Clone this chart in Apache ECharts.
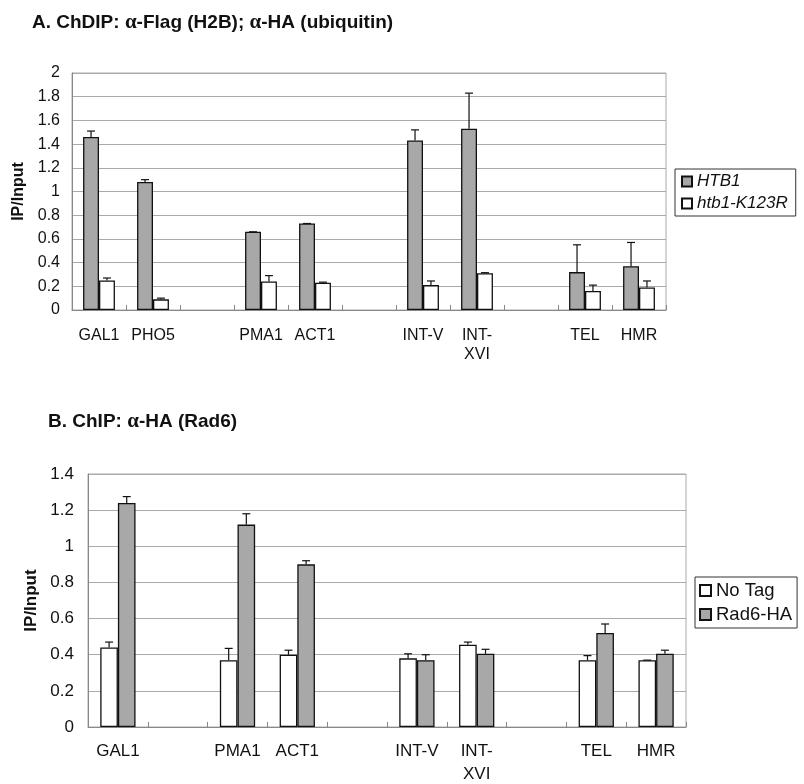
<!DOCTYPE html>
<html>
<head>
<meta charset="utf-8">
<script src="https://cdn.jsdelivr.net/npm/echarts@6/dist/echarts.min.js"></script>
<style>
html,body{margin:0;padding:0;background:#fff;}
#chart{width:804px;height:784px;}
</style>
</head>
<body>
<div id="chart"></div>
<script>
// ---- Panel A data ----
const catsA = ['GAL1', 'PHO5', '', 'PMA1', 'ACT1', '', 'INT-V', 'INT-\nXVI', '', 'TEL', 'HMR'];
const htb1 = [1.46, 1.08, null, 0.66, 0.73, null, 1.43, 1.53, null, 0.32, 0.37];
const htb1Err = [1.51, 1.10, null, 0.66, 0.73, null, 1.52, 1.83, null, 0.55, 0.57];
const k123r = [0.25, 0.09, null, 0.24, 0.23, null, 0.21, 0.31, null, 0.16, 0.19];
const k123rErr = [0.27, 0.10, null, 0.29, 0.235, null, 0.245, 0.315, null, 0.21, 0.245];
const ticksA = [0, 0.2, 0.4, 0.6, 0.8, 1, 1.2, 1.4, 1.6, 1.8, 2];

// ---- Panel B data ----
const catsB = ['GAL1', '', 'PMA1', 'ACT1', '', 'INT-V', 'INT-\nXVI', '', 'TEL', 'HMR'];
const noTag = [0.44, null, 0.37, 0.40, null, 0.38, 0.455, null, 0.37, 0.37];
const noTagErr = [0.47, null, 0.435, 0.425, null, 0.405, 0.47, null, 0.395, 0.37];
const rad6 = [1.24, null, 1.12, 0.90, null, 0.37, 0.405, null, 0.52, 0.405];
const rad6Err = [1.275, null, 1.18, 0.92, null, 0.40, 0.43, null, 0.57, 0.425];
const ticksB = [0, 0.2, 0.4, 0.6, 0.8, 1, 1.2, 1.4];

const FONT = 'Liberation Sans, Arial, sans-serif';
const GREY = '#a8a8a8';
const GAP = 0.41;

function errData(vals, errs) {
  const out = [];
  vals.forEach((v, i) => { if (v != null) out.push([i, v, errs[i]]); });
  return out;
}
function errSeries(idx, vals, errs, side) {
  return {
    type: 'custom', xAxisIndex: idx, yAxisIndex: idx, z: 10, silent: true,
    encode: { x: 0, y: [1, 2] },
    data: errData(vals, errs),
    renderItem: function (params, api) {
      const i = api.value(0), v = api.value(1), e = api.value(2);
      const base = api.coord([i, v]);
      const top = api.coord([i, e]);
      const band = api.size([1, 0])[0];
      const bw = band * (1 - GAP) / 2;
      const x = base[0] + side * bw / 2;
      const st = { stroke: '#111', lineWidth: 1.2 };
      return {
        type: 'group',
        children: [
          { type: 'line', shape: { x1: x, y1: base[1], x2: x, y2: top[1] }, style: st },
          { type: 'line', shape: { x1: x - 4, y1: top[1], x2: x + 4, y2: top[1] }, style: st }
        ]
      };
    }
  };
}

const chart = echarts.init(document.getElementById('chart'));
const axisLineStyle = { color: '#888', width: 1 };
const splitStyle = { color: '#aaa', width: 1 };

function xAx(idx, cats, fs, lh, mg) {
  return {
    type: 'category', gridIndex: idx, data: cats,
    axisLine: { lineStyle: axisLineStyle },
    axisTick: { show: true, inside: true, length: 5, lineStyle: { color: '#888' } },
    axisLabel: { interval: 0, fontFamily: FONT, fontSize: fs, color: '#111', margin: mg, lineHeight: lh }
  };
}
function yAx(idx, max, fs, gap) {
  return {
    type: 'value', gridIndex: idx, min: 0, max: max, interval: 0.2,
    axisLine: { show: true, lineStyle: axisLineStyle },
    axisTick: { show: false },
    axisLabel: { fontFamily: FONT, fontSize: fs, color: '#111', margin: idx === 0 ? 12 : 14 },
    splitLine: { lineStyle: splitStyle },
    name: 'IP/Input', nameLocation: 'middle', nameRotate: 90, nameGap: gap,
    nameTextStyle: { fontFamily: FONT, fontSize: idx === 0 ? 16 : 17, fontWeight: 'bold', color: '#111' }
  };
}

const richTitle = {
  b: { fontFamily: FONT, fontWeight: 'bold', fontSize: 19, color: '#111' },
  a: { fontFamily: 'Liberation Serif, serif', fontSize: 21, color: '#111' }
};

chart.setOption({
  backgroundColor: '#ffffff',
  animation: false,
  title: [
    { text: '{b|A. ChDIP: }{a|α}{b|-Flag (H2B); }{a|α}{b|-HA (ubiquitin)}', left: 27, top: 7, textStyle: { rich: richTitle } },
    { text: '{b|B. ChIP: }{a|α}{b|-HA (Rad6)}', left: 43, top: 406, textStyle: { rich: richTitle } }
  ],
  grid: [
    { left: 72, top: 73, width: 594, height: 237, show: true, borderColor: '#aaa', borderWidth: 1, outerBoundsMode: 'none', containLabel: false },
    { left: 88, top: 474, width: 598, height: 253, show: true, borderColor: '#aaa', borderWidth: 1, outerBoundsMode: 'none', containLabel: false }
  ],
  legend: [
    {
      data: ['HTB1', 'htb1-K123R'], orient: 'vertical', left: 675, top: 169,
      itemWidth: 10, itemHeight: 10, itemGap: 5, icon: 'rect',
      padding: [4, 8, 4, 6], borderColor: '#333', borderWidth: 1,
      textStyle: { fontFamily: FONT, fontSize: 17, fontStyle: 'italic', color: '#111' }
    },
    {
      data: ['No Tag', 'Rad6-HA'], orient: 'vertical', left: 695, top: 577,
      itemWidth: 11, itemHeight: 11, itemGap: 5, icon: 'rect',
      padding: [4, 5, 4, 4], borderColor: '#333', borderWidth: 1,
      textStyle: { fontFamily: FONT, fontSize: 18.5, color: '#111' }
    }
  ],
  xAxis: [xAx(0, catsA, 16, 19, 16), xAx(1, catsB, 17, 23, 13)],
  yAxis: [yAx(0, 2, 16, 43), yAx(1, 1.4, 17, 44)],
  series: [
    { name: 'HTB1', type: 'bar', xAxisIndex: 0, yAxisIndex: 0, data: htb1, barGap: '0%', barCategoryGap: '41%',
      itemStyle: { color: GREY, borderColor: '#111', borderWidth: 1.3 } },
    { name: 'htb1-K123R', type: 'bar', xAxisIndex: 0, yAxisIndex: 0, data: k123r, barGap: '0%', barCategoryGap: '41%',
      itemStyle: { color: '#fff', borderColor: '#111', borderWidth: 1.3 } },
    errSeries(0, htb1, htb1Err, -1),
    errSeries(0, k123r, k123rErr, 1),
    { name: 'No Tag', type: 'bar', xAxisIndex: 1, yAxisIndex: 1, data: noTag, barGap: '0%', barCategoryGap: '41%',
      itemStyle: { color: '#fff', borderColor: '#111', borderWidth: 1.3 } },
    { name: 'Rad6-HA', type: 'bar', xAxisIndex: 1, yAxisIndex: 1, data: rad6, barGap: '0%', barCategoryGap: '41%',
      itemStyle: { color: GREY, borderColor: '#111', borderWidth: 1.3 } },
    errSeries(1, noTag, noTagErr, -1),
    errSeries(1, rad6, rad6Err, 1)
  ]
});
</script>
</body>
</html>
